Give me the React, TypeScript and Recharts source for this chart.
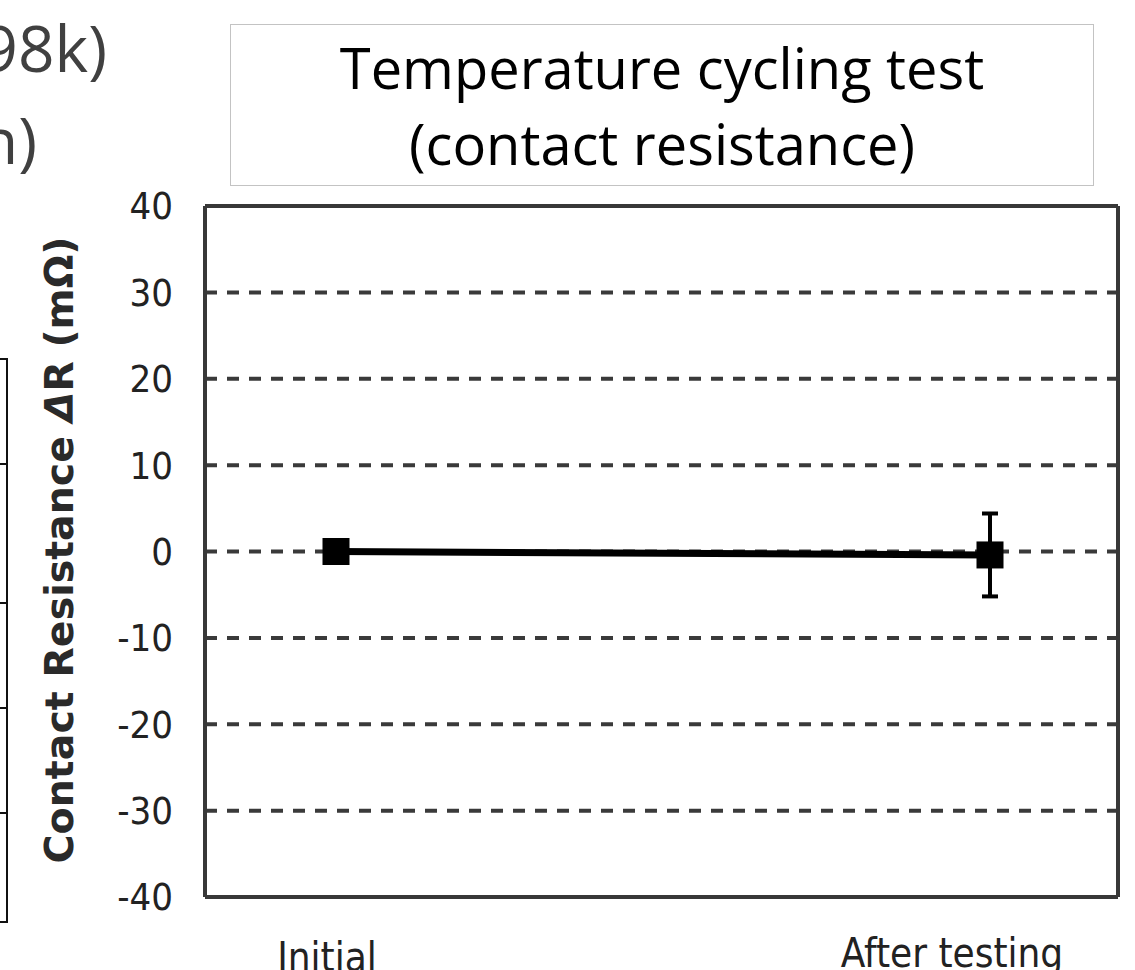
import React from 'react';
import { LineChart, Line, XAxis, YAxis, CartesianGrid, ErrorBar } from 'recharts';

// values
const categories = ['Initial', 'After testing'];
const deltaR = [0, -0.4];
const deltaRSpread = [0, 4.8];
const yTicks = [-40, -30, -20, -10, 0, 10, 20, 30, 40];

const data = categories.map((label, i) => ({
  label,
  value: deltaR[i],
  err: deltaRSpread[i],
}));

const frameColor = '#383838';
const tickFont = '"DejaVu Sans Condensed", "DejaVu Sans", sans-serif';

function SquareDot(props: any) {
  const { cx, cy, index } = props;
  if (cx == null || cy == null) return <g key={index} />;
  return <rect key={index} x={cx - 13.5} y={cy - 13.5} width={27} height={27} fill="#000" />;
}

// the category labels sit a little off the points in the original
const labelShift = [
  { dx: -9, dy: 74 },
  { dx: -38, dy: 70 },
];

function CategoryTick(props: any) {
  const { x, y, payload, index } = props;
  const s = labelShift[index] ?? { dx: 0, dy: 70 };
  return (
    <text
      x={x + s.dx}
      y={y + s.dy}
      textAnchor="middle"
      fill="#222"
      fontSize={40}
      fontFamily={tickFont}
    >
      {payload.value}
    </text>
  );
}

function AxisTitle() {
  return (
    <text
      x={73}
      y={550}
      transform="rotate(-90, 73, 550)"
      textAnchor="middle"
      fill="#2a2a2a"
      fontSize={39.5}
      fontWeight="bold"
      fontFamily='"DejaVu Sans", sans-serif'
    >
      Contact Resistance <tspan fontStyle="italic">Δ</tspan>R (mΩ)
    </text>
  );
}

function LeftFragments() {
  // pieces of the neighbouring slide content that are cut by the crop
  const rows = [359, 464, 603, 708, 813, 922];
  return (
    <svg width={220} height={970} style={{ position: 'absolute', left: 0, top: 0 }}>
      <text x={107} y={72} textAnchor="end" fontSize={64} fill="#404040" fontFamily='"Open Sans", sans-serif'>
        98k)
      </text>
      <text x={37} y={164} textAnchor="end" fontSize={64} fill="#404040" fontFamily='"Open Sans", sans-serif'>
        n)
      </text>
      <line x1={7} y1={rows[0]} x2={7} y2={rows[rows.length - 1]} stroke="#111" strokeWidth={2} />
      {rows.map((r) => (
        <line key={r} x1={0} y1={r} x2={8} y2={r} stroke="#111" strokeWidth={2} />
      ))}
    </svg>
  );
}

export default function App() {
  return (
    <div
      style={{
        position: 'absolute',
        left: 0,
        top: 0,
        width: 1135,
        height: 970,
        overflow: 'hidden',
        background: '#fff',
      }}
    >
      <LeftFragments />

      <div
        style={{
          position: 'absolute',
          left: 230,
          top: 24,
          width: 864,
          height: 162,
          boxSizing: 'border-box',
          border: '1.5px solid #c3c3c3',
          paddingTop: 3.5,
          fontFamily: '"Open Sans", sans-serif',
          fontSize: 56,
          lineHeight: '76px',
          textAlign: 'center',
          color: '#000',
        }}
      >
        Temperature cycling test
        <br />
        (contact resistance)
      </div>

      <div style={{ position: 'absolute', left: 0, top: 0 }}>
        <LineChart
          width={1135}
          height={970}
          data={data}
          margin={{ top: 205, right: 16, bottom: 0, left: 145 }}
        >
          <CartesianGrid
            horizontal
            vertical={false}
            stroke="#3a3a3a"
            strokeWidth={4}
            strokeDasharray="12 10"
          />
          <XAxis
            dataKey="label"
            type="category"
            height={73}
            padding={{ left: 131, right: 128 }}
            axisLine={{ stroke: frameColor, strokeWidth: 4 }}
            tickLine={false}
            tickSize={0}
            tickMargin={0}
            tick={<CategoryTick />}
            interval={0}
          />
          <XAxis
            xAxisId="top"
            orientation="top"
            dataKey="label"
            height={1}
            padding={{ left: 131, right: 128 }}
            axisLine={{ stroke: frameColor, strokeWidth: 4 }}
            tickLine={false}
            tick={false}
          />
          <YAxis
            width={60}
            domain={[-40, 40]}
            ticks={yTicks}
            interval={0}
            axisLine={{ stroke: frameColor, strokeWidth: 4 }}
            tickLine={false}
            tickSize={0}
            tickMargin={32}
            tick={{ fill: '#222', fontSize: 38, fontFamily: tickFont }}
            label={<AxisTitle />}
          />
          <YAxis
            yAxisId="right"
            orientation="right"
            width={1}
            domain={[-40, 40]}
            ticks={yTicks}
            axisLine={{ stroke: frameColor, strokeWidth: 4 }}
            tickLine={false}
            tick={false}
          />
          <Line
            dataKey="value"
            stroke="#000"
            strokeWidth={7}
            dot={SquareDot}
            activeDot={false}
            isAnimationActive={false}
          >
            <ErrorBar dataKey="err" direction="y" width={8} strokeWidth={4} stroke="#000" />
          </Line>
        </LineChart>
      </div>
    </div>
  );
}
